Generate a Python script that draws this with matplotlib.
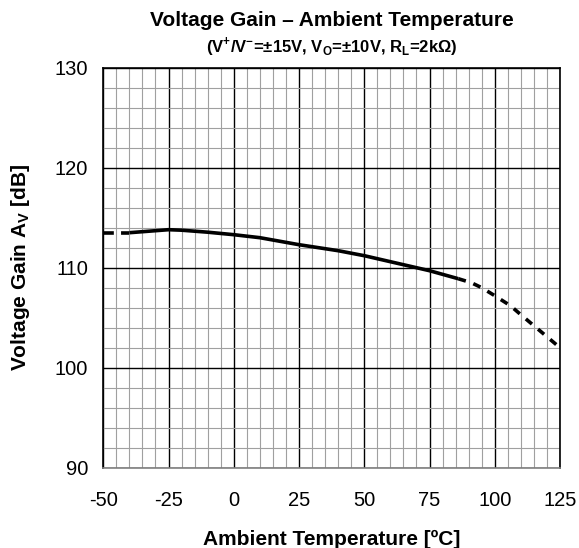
import numpy as np
import matplotlib
matplotlib.use('Agg')
from matplotlib import pyplot as plt
from matplotlib.ticker import MultipleLocator

plt.rcParams['font.family'] = ['Liberation Sans', 'DejaVu Sans']
plt.rcParams['mathtext.fontset'] = 'custom'
plt.rcParams['mathtext.rm'] = 'Liberation Sans'
plt.rcParams['mathtext.bf'] = 'Liberation Sans:bold'
plt.rcParams['axes.unicode_minus'] = False

# curve, split where the line style changes
temp_left = [-50, -40]
gain_left = [113.5, 113.5]

temp_mid = [-40, -30, -25, -20, -10, 0, 10, 25, 40, 50, 60, 75, 86]
gain_mid = [113.5, 113.7, 113.8, 113.75, 113.55, 113.3, 113.0, 112.3, 111.7, 111.2, 110.6, 109.7, 108.9]

temp_right = [86, 91, 95, 100, 106, 110, 115, 120, 125]
gain_right = [108.9, 108.5, 108.0, 107.2, 106.2, 105.3, 104.2, 103.1, 102.0]

x_ticks = [-50, -25, 0, 25, 50, 75, 100, 125]
y_ticks = [90, 100, 110, 120, 130]

fig = plt.figure(figsize=(5.79, 5.48), dpi=100)
ax = fig.add_axes([0.1784, 0.1465, 0.7888, 0.730])

ax.plot(temp_left, gain_left, color='black', lw=2.6, ls=(0, (3, 2)), dash_capstyle='butt')
ax.plot(temp_mid, gain_mid, color='black', lw=2.6, solid_capstyle='butt')
ax.plot(temp_right, gain_right, color='black', lw=2.6, ls=(0, (2.2, 2.2)), dash_capstyle='butt')

ax.set_xlim(-50, 125)
ax.set_ylim(90, 130)
ax.set_xticks(x_ticks)
ax.set_yticks(y_ticks)
ax.xaxis.set_minor_locator(MultipleLocator(5))
ax.yaxis.set_minor_locator(MultipleLocator(2))
ax.grid(which='major', color='black', lw=1.0)
ax.grid(which='minor', color='#a0a0a0', lw=0.8)
ax.set_axisbelow(True)
ax.tick_params(which='both', length=0)
ax.tick_params(axis='x', labelsize=14.5, pad=17)
ax.tick_params(axis='y', labelsize=14.5, pad=11)
for s in ax.spines.values():
    s.set_linewidth(1.2)
    s.set_color('black')
ax.spines['bottom'].set_color('#808080')

ax.set_xlabel('Ambient Temperature [ºC]', fontsize=15, fontweight='bold', labelpad=14)
ax.set_ylabel(r'Voltage Gain A$_\mathbf{V}$ [dB]', fontsize=15, fontweight='bold', labelpad=16)

cx = 0.1784 + 0.7888 / 2
fig.text(cx, 1 - 21 / 548, 'Voltage Gain – Ambient Temperature', ha='center', va='center',
         fontsize=15, fontweight='bold')
fig.text(cx, 1 - 46 / 548, r'(V$^\mathbf{+}$/V$^\mathbf{-}$=±15V, V$_\mathbf{O}$=±10V, R$_\mathbf{L}$=2kΩ)',
         ha='center', va='center', fontsize=12, fontweight='bold')

fig.savefig('out.png', dpi=100)
